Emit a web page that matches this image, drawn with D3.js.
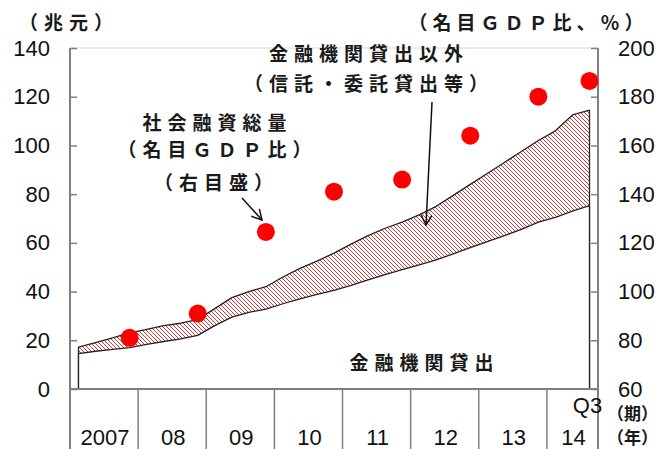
<!DOCTYPE html>
<html>
<head>
<meta charset="utf-8">
<script src="https://cdn.jsdelivr.net/npm/d3@7"></script>
<style>
  html, body { margin: 0; padding: 0; background: #fff; }
  svg { display: block; }
  .cjk { font-family: "Noto Sans CJK JP", sans-serif; font-size: 19px; font-weight: 700; fill: #1a1a1a; }
  .num { font-family: "Liberation Sans", Arial, sans-serif; font-size: 22px; fill: #111; }
</style>
</head>
<body>
<svg id="chart" width="660" height="449"></svg>
<script>
// ---------------- data ----------------
const quarters = [
  "2007Q1","2007Q2","2007Q3","2007Q4",
  "2008Q1","2008Q2","2008Q3","2008Q4",
  "2009Q1","2009Q2","2009Q3","2009Q4",
  "2010Q1","2010Q2","2010Q3","2010Q4",
  "2011Q1","2011Q2","2011Q3","2011Q4",
  "2012Q1","2012Q2","2012Q3","2012Q4",
  "2013Q1","2013Q2","2013Q3","2013Q4",
  "2014Q1","2014Q2","2014Q3"
];
// 金融機関貸出 (兆元)
const bankLoans = [
  14.5, 15.5, 16.3, 17.0,
  18.3, 19.5, 20.6, 22.0,
  26.0, 29.5, 31.5, 32.8,
  35.0, 37.0, 38.8, 40.5,
  42.5, 44.8, 47.0, 49.0,
  51.0, 53.0, 55.5, 58.0,
  60.5, 63.0, 65.5, 68.5,
  70.5, 73.0, 75.3
];
// 社会融資総量 = 金融機関貸出 + 金融機関貸出以外 (兆元)
const totalFinancing = [
  17.2, 19.0, 21.0, 23.0,
  24.5, 26.0, 27.0, 28.5,
  33.0, 37.5, 40.0, 42.0,
  46.0, 49.5, 52.5, 55.8,
  59.5, 63.0, 66.0, 68.5,
  71.5, 75.0, 79.5, 84.0,
  88.5, 93.0, 97.5, 102.0,
  106.0, 112.5, 114.5
];
// 社会融資総量 (名目GDP比, %)
const ratioQuarters = ["2007Q4","2008Q4","2009Q4","2010Q4","2011Q4","2012Q4","2013Q4","2014Q3"];
const ratioValues   = [81, 91, 124.5, 141, 146, 164, 180, 186.5];

const yearKeys   = ["2007","2008","2009","2010","2011","2012","2013","2014"];
const yearLabels = ["2007","08","09","10","11","12","13","14"];
const leftTicks  = [0, 20, 40, 60, 80, 100, 120, 140];
const rightTicks = [60, 80, 100, 120, 140, 160, 180, 200];

// ---------------- layout ----------------
const L = 70, R = 598, T = 48, B = 389;
const svg = d3.select("#chart");

const x = d3.scaleBand().domain(quarters).range([L, R]).paddingInner(0).paddingOuter(0);
const xc = q => x(q) + x.bandwidth() / 2;
const yL = d3.scaleLinear().domain([0, 140]).range([B, T]);
const yR = d3.scaleLinear().domain([60, 200]).range([B, T]);

// hatch pattern
const defs = svg.append("defs");
const pat = defs.append("pattern")
  .attr("id", "hatch").attr("patternUnits", "userSpaceOnUse")
  .attr("width", 4).attr("height", 4);
pat.append("rect").attr("width", 4).attr("height", 4).attr("fill", "#fff");
pat.append("path")
  .attr("d", "M-1,-1 L5,5 M3,-1 L5,1 M-1,3 L1,5")
  .attr("stroke", "#d23a3a").attr("stroke-width", 1);

const arrowMarker = defs.append("marker")
  .attr("id", "arr").attr("viewBox", "0 0 12 12")
  .attr("refX", 11).attr("refY", 6)
  .attr("markerWidth", 12).attr("markerHeight", 12)
  .attr("markerUnits", "userSpaceOnUse")
  .attr("orient", "auto");
arrowMarker.append("path").attr("d", "M1,0.5 L11,6 L1,11.5")
  .attr("fill", "none").attr("stroke", "#111").attr("stroke-width", 1.5);

// top frame line
svg.append("line").attr("x1", L).attr("x2", R).attr("y1", T).attr("y2", T)
  .attr("stroke", "#d9d9d9").attr("stroke-width", 1);

// areas
const totalArea = d3.area()
  .x((d, i) => xc(quarters[i])).y0(yL(0)).y1(d => yL(d));
const loanArea = d3.area()
  .x((d, i) => xc(quarters[i])).y0(yL(0)).y1(d => yL(d));

svg.append("path").datum(totalFinancing)
  .attr("d", totalArea)
  .attr("fill", "url(#hatch)").attr("stroke", "#222").attr("stroke-width", 1.3)
  .attr("stroke-linejoin", "round");
svg.append("path").datum(bankLoans)
  .attr("d", loanArea)
  .attr("fill", "#fff").attr("stroke", "#222").attr("stroke-width", 1.3)
  .attr("stroke-linejoin", "round");

// left axis
const gL = svg.append("g").attr("transform", `translate(${L},0)`)
  .call(d3.axisLeft(yL).tickValues(leftTicks).tickSize(-7).tickSizeOuter(0).tickPadding(20).tickFormat(d3.format("d")));
gL.select(".domain").remove();
gL.selectAll(".tick line").attr("stroke", "#808080").attr("stroke-width", 1.5);
gL.selectAll(".tick text").attr("class", "num").attr("font-family", null).attr("font-size", null).attr("fill", "#111");
svg.append("line").attr("x1", L).attr("x2", L).attr("y1", T).attr("y2", 449)
  .attr("stroke", "#808080").attr("stroke-width", 2);

// right axis
const gR = svg.append("g").attr("transform", `translate(${R},0)`)
  .call(d3.axisRight(yR).tickValues(rightTicks).tickSize(-7).tickSizeOuter(0).tickPadding(20).tickFormat(d3.format("d")));
gR.select(".domain").remove();
gR.selectAll(".tick line").attr("stroke", "#808080").attr("stroke-width", 1.5);
gR.selectAll(".tick text").attr("class", "num").attr("font-family", null).attr("font-size", null).attr("fill", "#111");
svg.append("line").attr("x1", R).attr("x2", R).attr("y1", T).attr("y2", 449)
  .attr("stroke", "#808080").attr("stroke-width", 2);

// bottom axis
svg.append("line").attr("x1", L).attr("x2", R).attr("y1", B).attr("y2", B)
  .attr("stroke", "#808080").attr("stroke-width", 2);
yearKeys.forEach((yk, i) => {
  const qs = quarters.filter(q => q.startsWith(yk));
  const x0 = x(qs[0]);
  const x1 = x(qs[qs.length - 1]) + x.bandwidth();
  if (i > 0) {
    svg.append("line").attr("x1", x0).attr("x2", x0).attr("y1", B).attr("y2", 449)
      .attr("stroke", "#808080").attr("stroke-width", 1.5);
  }
  svg.append("text").attr("class", "num")
    .attr("x", (x0 + x1) / 2 + 1).attr("y", 445)
    .attr("text-anchor", "middle").text(yearLabels[i]);
});
svg.append("text").attr("class", "num")
  .attr("x", xc(quarters[quarters.length - 1]) - 2).attr("y", 413)
  .attr("text-anchor", "middle").text("Q3");

// dots
svg.selectAll("circle.ratio").data(ratioValues).join("circle")
  .attr("class", "ratio")
  .attr("cx", (d, i) => xc(ratioQuarters[i]))
  .attr("cy", d => yR(d))
  .attr("r", 9)
  .attr("fill", "#ff0000");

// texts
function cjk(str, xPos, yPos, ls, anchor, size) {
  const a = anchor || "middle";
  const t = svg.append("text").attr("class", "cjk")
    .attr("x", a === "middle" ? xPos + ls / 2 : xPos).attr("y", yPos)
    .attr("text-anchor", a)
    .style("letter-spacing", ls + "px")
    .text(str);
  if (size) t.style("font-size", size + "px");
}
cjk("（兆元）", 66, 30, 6);
cjk("（名目ＧＤＰ比、％）", 526, 30, 5);
cjk("金融機関貸出以外", 366, 61, 6);
cjk("（信託・委託貸出等）", 366, 91, 6);
cjk("社会融資総量", 214.5, 130, 6);
cjk("（名目ＧＤＰ比）", 214.5, 157, 6);
cjk("（右目盛）", 213.5, 190, 6);
cjk("金融機関貸出", 421.5, 370, 6);
cjk("（期）", 607, 420, 0, "start", 17);
cjk("（年）", 607, 444, 0, "start", 17);

// annotation arrows
svg.append("line").attr("x1", 242).attr("y1", 198).attr("x2", 262).attr("y2", 220)
  .attr("stroke", "#111").attr("stroke-width", 1.5).attr("marker-end", "url(#arr)");
svg.append("line").attr("x1", 432).attr("y1", 102).attr("x2", 426).attr("y2", 225)
  .attr("stroke", "#111").attr("stroke-width", 1.5).attr("marker-end", "url(#arr)");
</script>
</body>
</html>
